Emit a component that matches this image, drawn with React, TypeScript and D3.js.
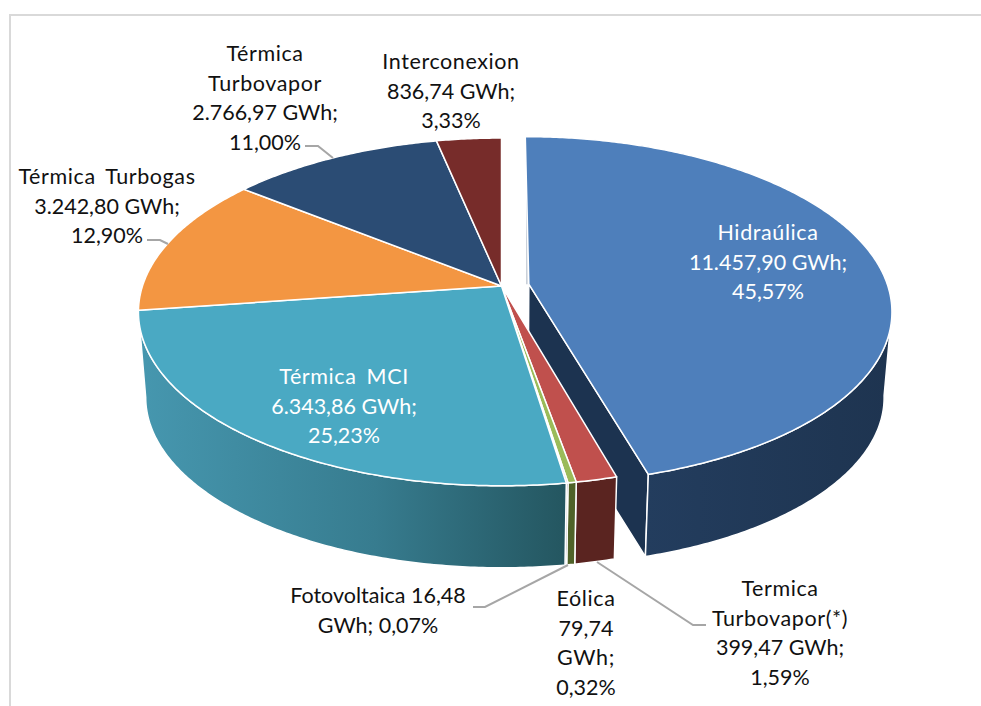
import React from 'react';
import * as d3 from 'd3';

// generation by source, GWh (3D pie, first slice pulled out)
const categories = ['Hidraúlica', 'Termica Turbovapor(*)', 'Eólica', 'Fotovoltaica', 'Térmica MCI', 'Térmica Turbogas', 'Térmica Turbovapor', 'Interconexion'];
const gwh = [11457.9, 399.47, 79.74, 16.48, 6343.86, 3242.8, 2766.97, 836.74];
const topColors = ['#4e7fbb', '#c0504d', '#9bbb59', '#8064a2', '#4aa9c3', '#f39642', '#2b4c74', '#772c2a'];
const wallColors = ['url(#wallBlue)', '#5a2420', '#4f6228', '#403152', 'url(#wallTeal)', '#974806', '#1a2f48', '#4a1b1a'];
const exploded = [0.077, 0, 0, 0, 0, 0, 0, 0];

const labelLines = [
  ['Hidraúlica', '11.457,90 GWh;', '45,57%'],
  ['Termica', 'Turbovapor(*)', '399,47 GWh;', '1,59%'],
  ['Eólica', '79,74', 'GWh;', '0,32%'],
  ['Fotovoltaica 16,48', 'GWh; 0,07%'],
  ['Térmica MCI', '6.343,86 GWh;', '25,23%'],
  ['Térmica Turbogas', '3.242,80 GWh;', '12,90%'],
  ['Térmica', 'Turbovapor', '2.766,97 GWh;', '11,00%'],
  ['Interconexion', '836,74 GWh;', '3,33%'],
];
const labelX = [768, 780, 586, 378, 344, 107, 265, 451];
const labelY = [232, 588, 598, 595, 376, 176, 53, 61];
const labelFill = ['#fff', '#111', '#111', '#111', '#fff', '#111', '#111', '#111'];
const lineGap = 29.7;

const leaders: [number, number][][] = [
  [[597, 562], [693, 625], [706, 625]],
  [[568, 565], [485, 607], [473, 607]],
  [[147, 240], [160, 240], [168, 244]],
  [[305, 146], [318, 146], [333, 158]],
];

const width = 981;
const height = 706;

// perspective of the disc, measured on the picture
const cx = 501.5;
const cy = 286;
const radius = 359;
const tilt = 170;
const persp = 0.149;
const depth = 86;
const floorScale = 0.98;

// only the front of the rim can be seen, between the widest points of the ellipse
const rimStart = Math.acos(-persp);
const rimEnd = 2 * Math.PI - rimStart;

const xScale = d3.scaleLinear().domain([-1, 1]).range([cx - radius, cx + radius]);
const yScale = d3.scaleLinear().domain([-1, 1]).range([cy - tilt, cy + tilt]);

function project(u: number, v: number, floor: boolean): [number, number] {
  const w = 1 / (1 - persp * v);
  const s = floor ? floorScale : 1;
  const x = cx + s * (xScale(u * w) - cx);
  const y = cy + s * (yScale(v * w) - cy) + (floor ? depth : 0);
  return [x, y];
}

const pie = d3.pie<number>().sort(null).value((d) => d);
const slices = pie(gwh);
const line = d3.line();

function arcPoints(a0: number, a1: number, ox: number, oy: number, floor: boolean) {
  const n = Math.max(2, Math.ceil((a1 - a0) / 0.01));
  return d3.range(n + 1).map((i) => {
    const a = a0 + ((a1 - a0) * i) / n;
    return project(ox + Math.sin(a), oy - Math.cos(a), floor);
  });
}

function App() {
  const shapes = slices.map((s) => {
    const mid = (s.startAngle + s.endAngle) / 2;
    const e = exploded[s.index];
    const ox = e * Math.sin(mid);
    const oy = -e * Math.cos(mid);
    const top = arcPoints(s.startAngle, s.endAngle, ox, oy, false);
    const apex = project(ox, oy, false);
    const apexLow = project(ox, oy, true);
    const r0 = Math.max(s.startAngle, rimStart);
    const r1 = Math.min(s.endAngle, rimEnd);
    let wall = null;
    if (r1 > r0) {
      const rimTop = arcPoints(r0, r1, ox, oy, false);
      const rimBottom = arcPoints(r0, r1, ox, oy, true);
      wall = line([...rimTop, ...rimBottom.reverse()])! + 'Z';
    }
    return {
      i: s.index,
      e,
      face: line([apex, ...top])! + 'Z',
      wall,
      cut: line([apex, top[top.length - 1], project(ox + Math.sin(s.endAngle), oy - Math.cos(s.endAngle), true), apexLow])! + 'Z',
      startEdge: line([[apex[0] - 2, apex[1]], [apex[0] - 2, apex[1] - 108]]),
    };
  });

  const pulled = shapes.filter((d) => d.e > 0);
  const rest = shapes.filter((d) => d.e === 0);

  return (
    <svg width={width} height={height} style={{ position: 'absolute', left: 0, top: 0, display: 'block' }}
      fontFamily="Lato, 'Open Sans', sans-serif" fontSize={21.5}>
      <defs>
        <linearGradient id="wallTeal" gradientUnits="userSpaceOnUse" x1={140} x2={566} y1={0} y2={0}>
          <stop offset="0" stopColor="#4697af" />
          <stop offset="0.55" stopColor="#377c8f" />
          <stop offset="1" stopColor="#245660" />
        </linearGradient>
        <linearGradient id="wallBlue" gradientUnits="userSpaceOnUse" x1={645} x2={891} y1={0} y2={0}>
          <stop offset="0" stopColor="#233d5e" />
          <stop offset="1" stopColor="#1e3450" />
        </linearGradient>
      </defs>

      <rect width={width} height={height} fill="#fff" />
      <path d={`M10,${height}V15H${width}`} fill="none" stroke="#d9d9d9" strokeWidth={2} />

      {pulled.map((d) => (
        <g key={d.i}>
          <path d={d.startEdge!} stroke="#c5ccd6" strokeWidth={1.5} fill="none" />
          <path d={d.cut} fill="#1c3350" stroke="#fff" strokeWidth={1.5} strokeLinejoin="round" />
          {d.wall && <path d={d.wall} fill={wallColors[d.i]} stroke="#fff" strokeWidth={1.5} strokeLinejoin="round" />}
          <path d={d.face} fill={topColors[d.i]} stroke="#fff" strokeWidth={1.5} strokeLinejoin="round" />
        </g>
      ))}
      {rest.map((d) => d.wall && (
        <path key={d.i} d={d.wall} fill={wallColors[d.i]} stroke="#fff" strokeWidth={1.5} strokeLinejoin="round" />
      ))}
      {rest.map((d) => (
        <path key={d.i} d={d.face} fill={topColors[d.i]} stroke="#fff" strokeWidth={1.5} strokeLinejoin="round" />
      ))}

      {leaders.map((pts, i) => (
        <path key={i} d={line(pts)!} fill="none" stroke="#a6a6a6" strokeWidth={2} />
      ))}

      {categories.map((c, i) => (
        <text key={c} textAnchor="middle" fill={labelFill[i]} dominantBaseline="central">
          {labelLines[i].map((t, j) => {
            // the original face sets words wider than figures
            const wordy = !/\d/.test(t);
            return (
              <tspan key={j} x={labelX[i]} y={labelY[i] + j * lineGap}
                letterSpacing={wordy ? 0.6 : 0} wordSpacing={wordy ? 4 : 0}>{t}</tspan>
            );
          })}
        </text>
      ))}
    </svg>
  );
}

export default App;
